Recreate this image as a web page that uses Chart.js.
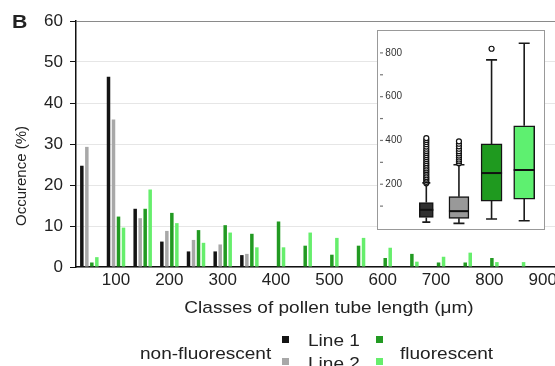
<!DOCTYPE html>
<html>
<head>
<meta charset="utf-8">
<script src="https://cdn.jsdelivr.net/npm/chart.js@4.4.1/dist/chart.umd.min.js"></script>
<style>
  body { margin: 0; width: 555px; height: 366px; overflow: hidden; background: #fff;
         font-family: "Liberation Sans", Arial, sans-serif; color: #222; }
  #page { position: relative; width: 555px; height: 366px; overflow: hidden; }
  .txt { position: absolute; white-space: nowrap; line-height: 1; transform-origin: left center; transform: scaleX(1.12); }
  .sq { position: absolute; width: 7px; height: 7px; }
  #mainWrap { position: absolute; left: 0; top: 0; width: 560px; height: 366px; }
  #insetWrap { position: absolute; left: 377px; top: 30px; width: 168px; height: 200px;
               box-sizing: border-box; border: 1.5px solid #999; background: #fff; }
  #insetInner { position: absolute; left: 0; top: 0; width: 165px; height: 197px; }
</style>
</head>
<body>
<div id="page">
  <div id="mainWrap"><canvas id="mainChart"></canvas></div>
  <div id="insetWrap"><div id="insetInner"><canvas id="insetChart"></canvas></div></div>

  <div class="txt" style="left:12px; top:12px; font-size:19px; font-weight:bold;">B</div>
  <div class="txt" style="left:20px; top:176px; font-size:15px; transform-origin: center; transform: translate(-50%, -50%) rotate(-90deg);">Occurence (%)</div>
  <div class="txt" style="left:329px; top:299px; font-size:17px; transform-origin: center; transform: translateX(-50%) scaleX(1.12);">Classes of pollen tube length (μm)</div>

  <!-- legend -->
  <div class="txt" style="left:140px; top:345px; font-size:17px;">non-fluorescent</div>
  <div class="sq" style="left:282px; top:336px; background:#141414;"></div>
  <div class="txt" style="left:308px; top:332px; font-size:17px;">Line 1</div>
  <div class="sq" style="left:376px; top:336px; background:#229a22;"></div>
  <div class="sq" style="left:282px; top:358px; background:#a8a8a8;"></div>
  <div class="txt" style="left:308px; top:355px; font-size:17px;">Line 2</div>
  <div class="sq" style="left:376px; top:358px; background:#66ee6c;"></div>
  <div class="txt" style="left:400px; top:345px; font-size:17px;">fluorescent</div>
</div>

<script>
// histogram: classes of pollen tube length (upper bound of each 50 um class)
const classes = ['50', '100', '150', '200', '250', '300', '350', '400', '450',
                 '500', '550', '600', '650', '700', '750', '800', '850', '900'];
const line1NonFluo = [24.7, 46.4, 14.2, 6.2, 3.8, 3.8, 2.9, null, null,
                      null, null, null, null, null, null, null, null, null];
const line2NonFluo = [29.3, 36.0, 11.9, 8.8, 6.6, 5.5, 3.2, null, null,
                      null, null, null, null, null, null, null, null, null];
const line1Fluo = [1.1, 12.3, 14.2, 13.2, 9.0, 10.2, 8.1, 11.1, 5.2,
                   3.0, 5.2, 2.2, 3.2, 1.1, 1.1, 2.2, null, null];
const line2Fluo = [2.4, 9.6, 18.9, 10.7, 5.9, 8.4, 4.8, 4.8, 8.4,
                   7.1, 7.1, 4.7, 1.3, 2.5, 3.5, 1.2, 1.2, null];

// inset boxplot (pollen tube length, um)
const boxLabels = ['Line 1 non-fluorescent', 'Line 2 non-fluorescent', 'Line 1 fluorescent', 'Line 2 fluorescent'];
const boxMin = [27, 21, 41, 33];
const boxQ1 = [48, 44, 123, 132];
const boxMedian = [83, 77, 251, 265];
const boxQ3 = [116, 143, 384, 467];
const boxMax = [206, 289, 768, 844];
const outliers = [
  [204, 211, 219, 226, 233, 241, 249, 257, 264, 272, 281, 289, 297, 306, 315, 324, 333, 343, 352, 362, 372, 383, 393, 402, 411],
  [296, 305, 313, 322, 331, 341, 351, 362, 373, 385, 396],
  [819],
  []
];

const FONT = '"Liberation Sans", Arial, sans-serif';
const colors = ['#141414', '#a8a8a8', '#229a22', '#66ee6c'];
const boxColors = ['#303030', '#999999', '#1f9a1f', '#5ef070'];

new Chart(document.getElementById('mainChart'), {
  type: 'bar',
  data: {
    labels: classes,
    datasets: [
      { label: 'Line 1 non-fluorescent', data: line1NonFluo, backgroundColor: colors[0] },
      { label: 'Line 2 non-fluorescent', data: line2NonFluo, backgroundColor: colors[1] },
      { label: 'Line 1 fluorescent', data: line1Fluo, backgroundColor: colors[2] },
      { label: 'Line 2 fluorescent', data: line2Fluo, backgroundColor: colors[3] },
    ],
  },
  options: {
    responsive: true,
    maintainAspectRatio: false,
    animation: false,
    devicePixelRatio: 1,
    layout: { padding: { top: 21, right: 3, left: 0, bottom: 0 } },
    datasets: { bar: { categoryPercentage: 0.75, barPercentage: 0.7 } },
    plugins: { legend: { display: false }, tooltip: { enabled: false } },
    scales: {
      x: {
        grid: { display: false, drawTicks: false },
        border: { color: '#111', width: 1.5 },
        ticks: {
          autoSkip: false, maxRotation: 0, padding: 3, color: '#222',
          font: { size: 17, family: FONT },
          callback(v) {
            const l = this.getLabelForValue(v);
            return Number(l) % 100 === 0 ? l : '';
          },
        },
        afterFit(s) { s.height = 99; },
      },
      y: {
        min: 0, max: 60,
        ticks: { stepSize: 10, padding: 7, color: '#222', font: { size: 17, family: FONT } },
        grid: {
          color: (c) => (c.tick && c.tick.value === 60 ? '#8a8a8a' : '#e6e6e6'),
          tickColor: '#111', tickLength: 6,
        },
        border: { color: '#111', width: 1.5 },
        afterFit(s) { s.width = 76; },
      },
    },
  },
});

// whiskers, caps, medians and the small inward tick marks of the inset
const capWidths = [8, 11, 11, 11];
const boxWhiskers = {
  id: 'boxWhiskers',
  beforeDatasetsDraw(chart) {
    const { ctx, scales: { x, y } } = chart;
    ctx.save();
    ctx.strokeStyle = '#1a1a1a';
    ctx.lineWidth = 1.6;
    boxLabels.forEach((l, i) => {
      const px = x.getPixelForValue(i);
      const half = capWidths[i] / 2;
      const yMax = y.getPixelForValue(boxMax[i]);
      const yMin = y.getPixelForValue(boxMin[i]);
      ctx.beginPath();
      ctx.moveTo(px, y.getPixelForValue(boxQ3[i])); ctx.lineTo(px, yMax);
      ctx.moveTo(px, y.getPixelForValue(boxQ1[i])); ctx.lineTo(px, yMin);
      ctx.moveTo(px - half, yMax); ctx.lineTo(px + half, yMax);
      ctx.moveTo(px - half, yMin); ctx.lineTo(px + half, yMin);
      ctx.stroke();
    });
    // tick dashes along the frame
    ctx.strokeStyle = '#777';
    ctx.lineWidth = 1.2;
    y.ticks.forEach((t) => {
      if (t.value <= 0 || t.value >= 900) return;
      const py = y.getPixelForValue(t.value);
      ctx.beginPath();
      ctx.moveTo(2, py); ctx.lineTo(5, py);
      ctx.stroke();
    });
    ctx.restore();
  },
  afterDatasetsDraw(chart) {
    const { ctx, scales: { y } } = chart;
    ctx.save();
    ctx.strokeStyle = '#111';
    ctx.lineWidth = 2;
    boxLabels.forEach((l, i) => {
      const el = chart.getDatasetMeta(i).data[i];
      const ym = y.getPixelForValue(boxMedian[i]);
      ctx.beginPath();
      ctx.moveTo(el.x - el.width / 2, ym);
      ctx.lineTo(el.x + el.width / 2, ym);
      ctx.stroke();
    });
    ctx.restore();
  },
};

const boxWidths = [14, 20, 21, 21];
const boxDatasets = boxLabels.map((l, i) => ({
  type: 'bar',
  label: l,
  data: boxLabels.map((_, j) => (j === i ? [boxQ1[i], boxQ3[i]] : null)),
  backgroundColor: boxColors[i],
  borderColor: '#151515',
  borderWidth: 1.5,
  borderSkipped: false,
  barThickness: boxWidths[i],
  grouped: false,
}));

new Chart(document.getElementById('insetChart'), {
  type: 'bar',
  data: {
    labels: boxLabels,
    datasets: [
      ...boxDatasets,
      {
        type: 'line',
        label: 'outliers',
        data: outliers.flatMap((vals, i) => vals.map((v) => ({ x: boxLabels[i], y: v }))),
        showLine: false,
        pointRadius: 2.5,
        pointBackgroundColor: '#fff',
        pointBorderColor: '#111',
        pointBorderWidth: 1.2,
      },
    ],
  },
  options: {
    responsive: true,
    maintainAspectRatio: false,
    animation: false,
    devicePixelRatio: 1,
    layout: { padding: { top: 0, right: 2.5, left: 0, bottom: 0 }, autoPadding: false },
    plugins: { legend: { display: false }, tooltip: { enabled: false } },
    scales: {
      x: { display: false },
      y: {
        min: 0, max: 900,
        grid: { display: false, drawTicks: false },
        border: { display: false },
        ticks: {
          stepSize: 100, padding: 8, color: '#333', font: { size: 10, family: FONT },
          autoSkip: false,
          callback: (v) => (v > 0 && v % 200 === 0 && v < 900 ? v : ''),
        },
        afterFit(s) {
          s.width = 32;
          s.paddingTop = 0;
          s.paddingBottom = 0;
        },
      },
    },
  },
  plugins: [boxWhiskers],
});
</script>
</body>
</html>
